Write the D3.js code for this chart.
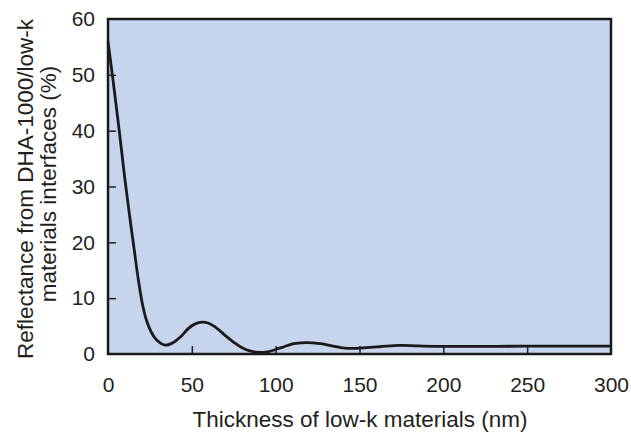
<!DOCTYPE html>
<html>
<head>
<meta charset="utf-8">
<script src="https://cdn.jsdelivr.net/npm/d3@7"></script>
<style>
  body { margin: 0; background: #fff; }
  text { font-family: "Liberation Sans", Arial, sans-serif; fill: #231f20; }
</style>
</head>
<body>
<div class="canvas_area"></div>
<script>
// DATA
const thickness = [0, 3, 6.5, 10, 13, 15.5, 18, 20.5, 23, 26, 29, 34, 38, 43, 48, 52, 56, 60, 65, 70, 75, 80, 85, 90, 95, 100, 105, 110, 115, 122, 128, 134, 140, 146, 152, 162, 174, 185, 200, 250, 300];
const reflectance = [56, 49, 40.5, 31.5, 24.5, 19, 13.5, 9, 6, 3.8, 2.5, 1.6, 1.9, 3, 4.6, 5.4, 5.7, 5.5, 4.6, 3.3, 2.1, 1.1, 0.5, 0.3, 0.4, 0.8, 1.3, 1.8, 2.0, 2.0, 1.8, 1.4, 1.1, 1.0, 1.1, 1.3, 1.55, 1.45, 1.35, 1.4, 1.4];
const xTicks = [0, 50, 100, 150, 200, 250, 300];
const yTicks = [0, 10, 20, 30, 40, 50, 60];

const svgwidth = 631, svgheight = 434;
const margin = {top: 19, right: 20, bottom: 80, left: 108};
const graphwidth = 611 - margin.left;
const graphheight = 354 - margin.top;

const svg = d3.select(".canvas_area").append("svg")
    .attr("width", svgwidth)
    .attr("height", svgheight);

const graph = svg.append("g")
    .attr("transform", `translate(${margin.left}, ${margin.top})`);

// SCALES
const X = d3.scaleLinear().domain([0, 300]).range([0, graphwidth]);
const Y = d3.scaleLinear().domain([0, 60]).range([graphheight, 0]);

// BACKGROUND
graph.append("rect")
    .attr("width", graphwidth)
    .attr("height", graphheight)
    .style("fill", "#c6d4ec");

// AXES (ticks point inward)
const xAxis = graph.append("g")
    .attr("transform", `translate(0, ${graphheight})`)
    .call(d3.axisBottom(X).tickValues(xTicks).tickSizeInner(-8).tickSizeOuter(0).tickPadding(23));
const yAxis = graph.append("g")
    .call(d3.axisLeft(Y).tickValues(yTicks).tickSizeInner(-8).tickSizeOuter(0).tickPadding(13));

[xAxis, yAxis].forEach(a => {
    a.select(".domain").remove();
    a.selectAll("line").style("stroke", "#231f20").style("stroke-width", 1.5);
    a.selectAll("text")
        .style("font-size", "21px")
        .style("font-family", "'Liberation Sans', Arial, sans-serif")
        .style("fill", "#231f20");
});
// hide end ticks that sit on the frame
xAxis.selectAll(".tick line").filter(d => d === 0 || d === 300).remove();
yAxis.selectAll(".tick line").filter(d => d === 0 || d === 60).remove();

// LINE
const line = d3.line()
    .x((d, i) => X(thickness[i]))
    .y(d => Y(d))
    .curve(d3.curveCatmullRom.alpha(0.5));

graph.append("path")
    .datum(reflectance)
    .attr("d", line)
    .style("fill", "none")
    .style("stroke", "#1a1a1a")
    .style("stroke-width", 2.8);

// FRAME
graph.append("rect")
    .attr("width", graphwidth)
    .attr("height", graphheight)
    .style("fill", "none")
    .style("stroke", "#1a1a1a")
    .style("stroke-width", 2.5);

// AXIS TITLES
svg.append("text")
    .attr("x", 360)
    .attr("y", 427)
    .attr("text-anchor", "middle")
    .style("font-size", "22.5px")
    .text("Thickness of low-k materials (nm)");

svg.append("text")
    .attr("transform", `translate(33, 189) rotate(-90)`)
    .attr("text-anchor", "middle")
    .style("font-size", "22.5px")
    .text("Reflectance from DHA-1000/low-k");
svg.append("text")
    .attr("transform", `translate(56, 184) rotate(-90)`)
    .attr("text-anchor", "middle")
    .style("font-size", "22.5px")
    .text("materials interfaces (%)");
</script>
</body>
</html>
